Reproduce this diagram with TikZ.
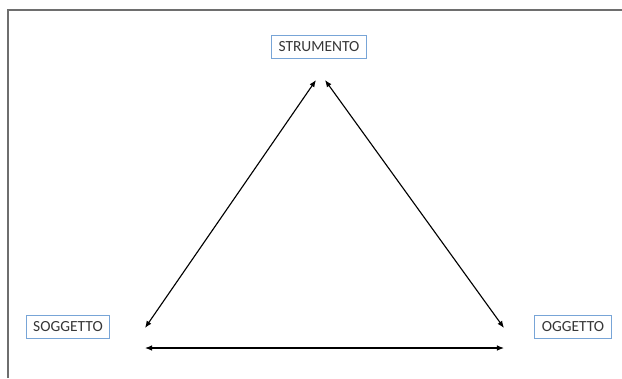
\documentclass[tikz,border=0pt]{standalone}
\usepackage{fontspec}
\setmainfont{Carlito}
\usepackage{tikz}
\usetikzlibrary{arrows.meta,calc,positioning}

\definecolor{boxblue}{RGB}{120,165,215}
\definecolor{framegray}{RGB}{110,110,110}
\definecolor{labelgray}{RGB}{55,55,55}

\tikzset{
  rolebox/.style={draw=boxblue, line width=0.8pt, fill=white, inner xsep=5pt,
    inner ysep=3pt, minimum height=0.58cm, text=labelgray,
    font=\fontsize{11}{12}\selectfont},
  relarrow/.style={<->, line width=0.8pt, black},
}

\begin{document}
\begin{tikzpicture}[>={Latex[length=5pt,width=4pt]}, x=0.025cm, y=-0.025cm]
  \useasboundingbox (0,0) rectangle (622,378);
  % frame
  \draw[framegray, line width=1pt] (8,378) -- (8,10) -- (622,10);
  % the three poles
  \node[rolebox] (strumento) at (319,47) {STRUMENTO};
  \node[rolebox] (soggetto) at (68,327) {SOGGETTO};
  \node[rolebox] (oggetto) at (573,327) {OGGETTO};
  % arrow ends
  \coordinate (SL) at (145,328);
  \coordinate (TL) at (316,80);
  \coordinate (TR) at (325,80);
  \coordinate (OR) at (504,328);
  \coordinate (BL) at (145,348);
  \coordinate (BR) at (504,348);
  \draw[relarrow] (SL) -- (TL);
  \draw[relarrow] (TR) -- (OR);
  \draw[relarrow] (BL) -- (BR);
\end{tikzpicture}
\end{document}
